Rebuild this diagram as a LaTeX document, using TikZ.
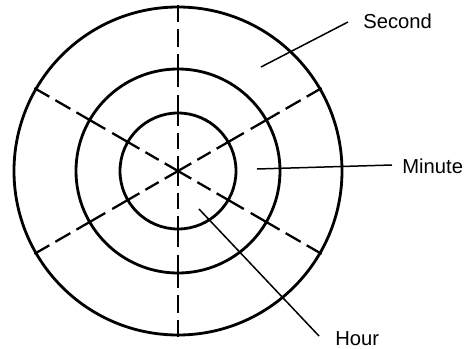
\documentclass[tikz,border=0pt]{standalone}
\usepackage{fontspec}
\setmainfont{Liberation Sans}
\begin{document}
\begin{tikzpicture}[x=0.02cm,y=-0.02cm,
  ring/.style={line width=1.6pt},
  spokeA/.style={line width=1.3pt, dash pattern=on 0.306cm off 0.14cm},
  spokeB/.style={line width=1.3pt, dash pattern=on 0.4cm off 0.16cm},
  spokeC/.style={line width=1.3pt, dash pattern=on 0.346cm off 0.14cm},
  leader/.style={line width=0.85pt},
  lbl/.style={anchor=west, inner sep=0pt, font=\fontsize{11.5}{13.5}\selectfont}]
\useasboundingbox (0,0) rectangle (466,348);
\coordinate (c) at (178,171);
\draw[ring] (c) circle[radius=164];
\draw[ring] (c) circle[radius=102];
\draw[ring] (c) circle[radius=58];
\foreach \a in {30,90,150,210,270,330} {
  \draw[spokeA] (c) -- ([shift={(\a:60)}]c);
  \draw[spokeB] ([shift={(\a:56)}]c) -- ([shift={(\a:104)}]c);
  \draw[spokeC] ([shift={(\a:100)}]c) -- ([shift={(\a:166)}]c);
}
\node[lbl] (second) at (363,21) {Second};
\node[lbl] (minute) at (402,166) {Minute};
\node[lbl] (hour) at (335,339) {Hour};
\coordinate (s1) at (261,67);
\coordinate (s2) at (348,22);
\coordinate (m1) at (257,169);
\coordinate (m2) at (392,165);
\coordinate (h1) at (199,209);
\coordinate (h2) at (319,336);
\draw[leader] (s1) -- (s2);
\draw[leader] (m1) -- (m2);
\draw[leader] (h1) -- (h2);
\end{tikzpicture}
\end{document}
